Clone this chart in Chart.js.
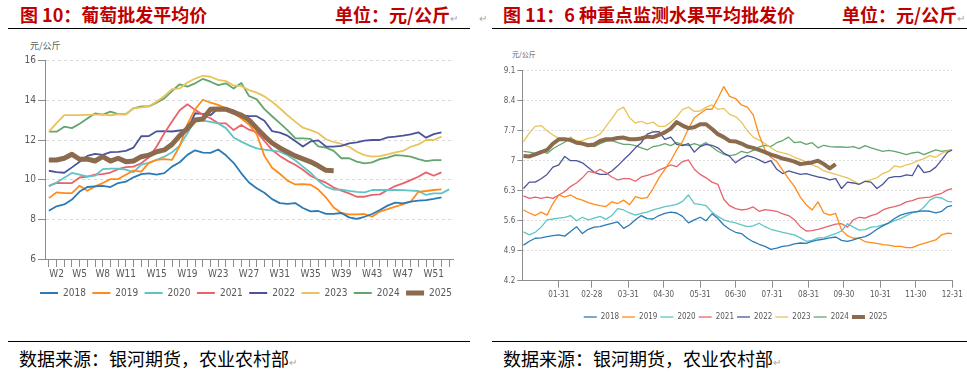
<!DOCTYPE html>
<html>
<head>
<meta charset="utf-8">
<script src="https://cdn.jsdelivr.net/npm/chart.js@4.4.1/dist/chart.umd.min.js"></script>
<style>
  body { margin: 0; width: 967px; height: 372px; background: #fff; position: relative; overflow: hidden; font-family: "Noto Sans CJK SC", sans-serif; }
  .title { position: absolute; top: 3px; font-size: 18px; font-weight: bold; color: #c00000; white-space: nowrap; line-height: 22px; }
  .rule { position: absolute; height: 1px; background: #000; }
  .src { position: absolute; top: 346px; font-size: 18px; color: #000; white-space: nowrap; line-height: 24px; }
  .ret { color: #a6a6a6; font-size: 10px; font-weight: normal; }
  .unit { position: absolute; color: #595959; white-space: nowrap; }
  .box { position: absolute; }
</style>
</head>
<body>
<div class="title" style="left:20px">图 10：葡萄批发平均价</div>
<div class="title" style="left:335px">单位：元/公斤<span class="ret">↵</span></div>
<div class="title" style="left:479px"><span class="ret">↵</span></div>
<div class="title" style="left:503px">图 11：6 种重点监测水果平均批发价</div>
<div class="title" style="left:842px">单位：元/公斤<span class="ret">↵</span></div>
<div class="rule" style="left:8px;top:28px;width:462px"></div>
<div class="rule" style="left:492px;top:28px;width:475px"></div>

<div class="unit" style="left:30px;top:39px;font-size:9px;line-height:14px">元/公斤</div>
<div class="unit" style="left:512px;top:49px;font-size:7px;line-height:10px">元/公斤</div>

<div class="box" style="left:0;top:35px"><canvas id="grape" width="470" height="275"></canvas></div>
<div class="box" style="left:490px;top:40px"><canvas id="fruit" width="477" height="292"></canvas></div>

<div class="rule" style="left:8px;top:341px;width:462px"></div>
<div class="rule" style="left:492px;top:341px;width:475px"></div>
<div class="src" style="left:19px">数据来源：银河期货，农业农村部<span class="ret">↵</span></div>
<div class="src" style="left:503px">数据来源：银河期货，农业农村部<span class="ret">↵</span></div>

<script>
// years and colours shared by both charts
const years = ['2018', '2019', '2020', '2021', '2022', '2023', '2024', '2025'];
const colors = ['#2a7ab5', '#ff8c1a', '#5ec5c6', '#e8636b', '#4b5499', '#e9c35b', '#63a66d', '#8c6a4d'];

// 图10 葡萄批发平均价, weekly
const weeks = Array.from({ length: 53 }, (_, i) => 'W' + (i + 1));
const shownWeeks = ['W2', 'W5', 'W8', 'W11', 'W15', 'W19', 'W23', 'W27', 'W31', 'W35', 'W39', 'W43', 'W47', 'W51'];

const g2018 = [8.43, 8.66, 8.75, 9.0, 9.4, 9.63, 9.66, 9.69, 9.63, 9.83, 9.9, 10.12, 10.28, 10.32, 10.26, 10.33, 10.66, 10.88, 11.25, 11.48, 11.36, 11.35, 11.52, 11.23, 10.85, 10.32, 9.86, 9.57, 9.34, 9.02, 8.82, 8.78, 8.82, 8.57, 8.4, 8.42, 8.28, 8.28, 8.32, 8.1, 8.02, 8.13, 8.27, 8.47, 8.69, 8.84, 8.81, 8.89, 8.94, 8.97, 9.03, 9.11, null];
const g2019 = [9.07, 9.36, 9.32, 9.32, 9.7, 9.44, 9.66, 9.83, 10.03, 10.03, 10.25, 10.46, 10.41, 10.85, 11.0, 11.04, 11.0, 11.7, 12.8, 13.55, 14.03, 13.88, 13.77, 13.6, 13.35, 13.08, 12.78, 12.3, 11.2, 10.6, 10.3, 9.95, 9.76, 9.77, 9.75, 9.5, 9.1, 8.6, 8.32, 8.25, 8.25, 8.27, 8.13, 8.39, 8.52, 8.64, 8.76, 8.89, 9.39, 9.43, 9.48, 9.51, null];
const g2020 = [9.66, 9.86, 10.1, 10.34, 10.25, 10.15, 10.2, 10.53, 10.56, 10.56, 10.51, 10.38, 10.76, 10.85, 11.0, 11.16, 11.38, 11.72, 12.34, 13.01, 12.98, 12.92, 12.84, 12.6, 12.13, 11.92, 11.73, 11.58, 11.52, 11.47, 11.41, 11.23, 10.98, 10.66, 10.35, 9.95, 9.65, 9.5, 9.5, 9.44, 9.39, 9.36, 9.48, 9.48, 9.48, 9.48, 9.47, 9.45, 9.43, 9.23, 9.31, 9.31, 9.51];
const g2021 = [9.69, 9.84, 9.83, 9.83, 10.11, 10.16, 10.25, 10.28, 10.36, 10.53, 10.63, 10.66, 10.83, 11.13, 11.67, 12.34, 12.93, 13.5, 13.8, 13.52, 13.27, 13.1, 12.85, 12.84, 12.5, 12.76, 12.52, 12.4, 11.95, 11.5, 11.2, 10.95, 10.75, 10.5, 10.2, 10.0, 9.85, 9.6, 9.45, 9.31, 9.14, 9.14, 9.23, 9.26, 9.48, 9.68, 9.81, 9.98, 10.15, 10.37, 10.2, 10.37, null];
const g2022 = [10.45, 10.38, 10.35, 10.62, 10.9, 11.2, 11.3, 11.25, 11.39, 11.4, 11.45, 11.62, 12.19, 12.2, 12.44, 12.45, 12.43, 12.48, 12.52, 13.35, 13.32, 13.25, 13.6, 13.6, 13.5, 13.25, 13.21, 13.2, 12.97, 12.45, 12.37, 12.22, 11.95, 11.67, 11.93, 11.98, 11.67, 11.67, 11.7, 11.83, 11.88, 11.97, 12.0, 12.0, 12.13, 12.17, 12.22, 12.29, 12.39, 12.12, 12.3, 12.39, null];
const g2023 = [12.42, 12.85, 13.26, 13.26, 13.26, 13.27, 13.28, 13.28, 13.25, 13.3, 13.3, 13.6, 13.65, 13.7, 13.93, 14.22, 14.56, 14.6, 14.9, 15.1, 15.24, 15.19, 15.03, 14.97, 14.75, 14.72, 14.52, 14.39, 14.2, 13.93, 13.6, 13.25, 12.93, 12.62, 12.5, 12.34, 12.04, 11.9, 11.8, 11.66, 11.41, 11.24, 11.16, 11.19, 11.28, 11.38, 11.45, 11.66, 11.78, 12.0, 12.0, 12.17, null];
const g2024 = [12.42, 12.42, 12.67, 12.6, 12.82, 13.08, 13.34, 13.28, 13.43, 13.31, 13.3, 13.6, 13.7, 13.7, 13.88, 14.1, 14.47, 14.81, 14.69, 14.86, 15.08, 14.94, 14.77, 14.86, 14.6, 14.88, 14.22, 14.05, 13.56, 13.2, 12.85, 12.5, 12.09, 12.08, 12.06, 11.68, 11.62, 11.45, 11.08, 11.08, 10.91, 10.82, 10.87, 11.04, 11.11, 11.24, 11.21, 11.16, 11.04, 10.94, 10.99, 10.99, null];
const g2025 = [10.99, 10.99, 11.08, 11.28, 11.03, 11.04, 10.94, 11.16, 10.94, 11.08, 10.91, 10.94, 11.16, 11.24, 11.41, 11.5, 11.78, 12.22, 12.59, 13.01, 13.06, 13.55, 13.56, 13.55, 13.4, 13.26, 13.01, 12.6, 12.2, 11.85, 11.6, 11.4, 11.2, 11.05, 10.9, 10.7, 10.47, 10.45];

// 图11 6种重点监测水果平均批发价, read every 5 days (day of year)
const days = Array.from({ length: 73 }, (_, i) => 1 + 5 * i).concat([365]);
const monthEnds = [31, 59, 90, 120, 151, 181, 212, 243, 273, 304, 334, 365];
const monthLabels = ['01-31', '02-28', '03-31', '04-30', '05-31', '06-30', '07-31', '08-31', '09-30', '10-31', '11-30', '12-31'];
const fruitTicks = [4.2, 4.9, 5.6, 6.3, 7, 7.7, 8.4, 9.1];

const f2018 = [5.03, 5.12, 5.19, 5.2, 5.23, 5.25, 5.27, 5.24, 5.35, 5.46, 5.3, 5.4, 5.45, 5.46, 5.5, 5.54, 5.57, 5.42, 5.5, 5.62, 5.72, 5.65, 5.64, 5.72, 5.77, 5.8, 5.78, 5.7, 5.55, 5.62, 5.68, 5.6, 5.76, 5.65, 5.5, 5.4, 5.33, 5.3, 5.19, 5.11, 5.05, 5.0, 4.93, 4.96, 5.0, 5.02, 5.06, 5.08, 5.07, 5.12, 5.15, 5.17, 5.2, 5.22, 5.14, 5.12, 5.15, 5.2, 5.23, 5.3, 5.4, 5.48, 5.55, 5.65, 5.73, 5.77, 5.8, 5.82, 5.83, 5.82, 5.78, 5.82, 5.93, 5.95];
const f2019 = [5.85, 5.78, 5.72, 5.8, 5.73, 6.0, 6.2, 6.15, 6.2, 6.12, 6.08, 6.02, 5.98, 5.95, 5.93, 6.04, 6.0, 6.08, 5.97, 6.16, 6.12, 6.14, 6.35, 6.6, 6.8, 7.0, 7.25, 7.45, 7.75, 8.0, 8.1, 8.2, 8.2, 8.45, 8.73, 8.5, 8.45, 8.3, 8.25, 8.07, 7.6, 7.25, 7.08, 6.98, 6.78, 6.58, 6.4, 6.15, 5.97, 5.85, 6.04, 5.78, 5.73, 5.77, 5.38, 5.25, 5.19, 5.19, 5.11, 5.09, 5.07, 5.04, 5.03, 5.0, 5.0, 4.97, 4.97, 5.03, 5.07, 5.11, 5.15, 5.27, 5.31, 5.3];
const f2020 = [5.34, 5.27, 5.33, 5.45, 5.62, 5.64, 5.66, 5.68, 5.72, 5.6, 5.68, 5.62, 5.66, 5.7, 5.63, 5.72, 5.88, 5.85, 5.78, 5.73, 5.77, 5.8, 5.85, 5.89, 5.93, 5.95, 5.98, 6.05, 6.2, 6.0, 5.98, 5.95, 5.8, 5.7, 5.62, 5.58, 5.55, 5.5, 5.46, 5.48, 5.54, 5.46, 5.4, 5.36, 5.33, 5.3, 5.27, 5.2, 5.12, 5.14, 5.2, 5.2, 5.25, 5.3, 5.36, 5.53, 5.45, 5.38, 5.39, 5.45, 5.46, 5.5, 5.54, 5.6, 5.65, 5.72, 5.78, 5.81, 5.92, 6.08, 6.15, 6.13, 6.05, 6.04];
const f2021 = [6.18, 6.12, 6.15, 6.12, 6.15, 6.12, 6.2, 6.28, 6.4, 6.48, 6.6, 6.75, 6.72, 6.8, 6.72, 6.62, 6.55, 6.58, 6.58, 6.52, 6.62, 6.66, 6.7, 6.78, 6.84, 6.9, 6.86, 6.98, 7.02, 6.8, 6.68, 6.6, 6.5, 6.45, 6.1, 5.95, 5.88, 5.85, 5.87, 5.92, 5.82, 5.86, 5.84, 5.82, 5.76, 5.72, 5.62, 5.46, 5.36, 5.37, 5.4, 5.44, 5.48, 5.52, 5.53, 5.45, 5.62, 5.68, 5.66, 5.72, 5.76, 5.85, 5.9, 5.93, 5.97, 6.04, 6.07, 6.12, 6.14, 6.15, 6.2, 6.24, 6.32, 6.35];
const f2022 = [6.35, 6.5, 6.5, 6.58, 6.68, 6.85, 6.9, 7.1, 7.0, 7.0, 6.95, 6.84, 6.73, 6.68, 6.68, 6.76, 6.88, 7.02, 7.15, 7.3, 7.42, 7.62, 7.67, 7.68, 7.5, 7.55, 7.38, 7.35, 7.4, 7.2, 7.33, 7.38, 7.36, 7.3, 7.18, 7.1, 6.95, 7.05, 7.12, 7.08, 7.02, 6.95, 7.0, 6.8, 6.7, 6.76, 6.72, 6.68, 6.7, 6.66, 6.62, 6.6, 6.55, 6.58, 6.35, 6.5, 6.48, 6.45, 6.52, 6.5, 6.35, 6.45, 6.6, 6.63, 6.63, 6.67, 6.65, 6.9, 6.72, 6.75, 6.85, 7.02, 7.2, 7.25];
const f2023 = [7.44, 7.65, 7.8, 7.82, 7.7, 7.6, 7.52, 7.5, 7.53, 7.46, 7.47, 7.52, 7.55, 7.62, 7.8, 7.98, 8.18, 8.25, 8.0, 7.88, 7.92, 7.86, 7.9, 7.8, 7.8, 7.9, 8.02, 8.2, 8.25, 8.15, 8.16, 8.25, 8.3, 8.2, 8.22, 8.08, 8.03, 7.9, 7.7, 7.55, 7.48, 7.4, 7.3, 7.22, 7.18, 7.15, 7.08, 7.03, 6.97, 6.9, 6.85, 6.76, 6.72, 6.68, 6.64, 6.6, 6.53, 6.45, 6.52, 6.56, 6.6, 6.7, 6.75, 6.88, 6.85, 6.9, 6.94, 7.0, 7.05, 7.12, 7.08, 7.17, 7.23, 7.25];
const f2024 = [7.22, 7.2, 7.17, 7.23, 7.17, 7.28, 7.36, 7.43, 7.55, 7.42, 7.4, 7.36, 7.33, 7.4, 7.45, 7.47, 7.42, 7.38, 7.38, 7.35, 7.3, 7.25, 7.33, 7.35, 7.4, 7.35, 7.42, 7.38, 7.35, 7.4, 7.35, 7.42, 7.32, 7.22, 7.15, 7.12, 7.14, 7.22, 7.18, 7.24, 7.32, 7.36, 7.33, 7.42, 7.47, 7.55, 7.42, 7.44, 7.38, 7.42, 7.3, 7.36, 7.33, 7.32, 7.32, 7.31, 7.33, 7.28, 7.35, 7.3, 7.26, 7.22, 7.24, 7.22, 7.18, 7.14, 7.18, 7.2, 7.14, 7.2, 7.25, 7.22, 7.24, 7.25];
const f2025 = [7.11, 7.1, 7.15, 7.2, 7.25, 7.4, 7.5, 7.5, 7.48, 7.42, 7.4, 7.36, 7.38, 7.46, 7.5, 7.5, 7.53, 7.54, 7.5, 7.5, 7.52, 7.56, 7.55, 7.6, 7.66, 7.75, 7.9, 7.82, 7.76, 7.78, 7.85, 7.85, 7.74, 7.62, 7.55, 7.46, 7.45, 7.4, 7.33, 7.3, 7.25, 7.2, 7.14, 7.1, 7.05, 7.02, 6.98, 6.92, 6.94, 6.96, 7.0, 6.92, 6.82, 6.92];

const NARROW = "'Liberation Sans Narrow', 'DejaVu Sans Condensed', sans-serif";
const axisGray = '#8c8c8c';
const textGray = '#595959';

function makeSet(label, data, color, thick, thin, wide) {
  return {
    label: label,
    data: data,
    borderColor: color,
    backgroundColor: color,
    borderWidth: thick ? wide : thin,
    borderJoinStyle: 'round',
    pointRadius: 0,
    tension: 0,
    order: thick ? -1 : 0
  };
}

function legendOpts(size, pad, sw) {
  return {
    position: 'bottom',
    labels: {
      usePointStyle: true,
      pointStyle: 'line',
      pointStyleWidth: sw,
      padding: pad,
      color: textGray,
      font: { family: NARROW, size: size },
      sort: (a, b) => a.datasetIndex - b.datasetIndex
    }
  };
}

// empty axis on the right, only to keep the plot narrower than the legend row
function spacer(w) {
  return {
    type: 'linear',
    position: 'right',
    afterFit: function (s) { s.width = w; },
    grid: { display: false },
    border: { display: false },
    ticks: { display: false }
  };
}

// left chart
const grapeSeries = [g2018, g2019, g2020, g2021, g2022, g2023, g2024, g2025];
new Chart(document.getElementById('grape'), {
  type: 'line',
  data: {
    labels: weeks,
    datasets: grapeSeries.map((d, i) => makeSet(years[i], d, colors[i], i === 7, 1.8, 5))
  },
  options: {
    responsive: false,
    animation: false,
    devicePixelRatio: 1,
    layout: { padding: { left: 22, right: 0, top: 25.7, bottom: 2 } },
    plugins: { legend: legendOpts(10, 6.4, 18), tooltip: { enabled: false } },
    scales: {
      x: {
        offset: true,
        afterFit: function (s) { s.height = 22.6; },
        grid: { drawOnChartArea: false, tickLength: 8, tickColor: axisGray },
        border: { color: axisGray },
        ticks: {
          autoSkip: false,
          maxRotation: 0,
          padding: 1,
          color: textGray,
          font: { family: NARROW, size: 10 },
          callback: (v, i) => shownWeeks.includes(weeks[i]) ? weeks[i] : ''
        }
      },
      y: {
        min: 6,
        max: 16,
        afterFit: function (s) { s.width = 23; },
        grid: { color: '#d9d9d9', tickLength: 7, tickColor: axisGray },
        border: { color: axisGray, dash: [3, 3] },
        ticks: { stepSize: 2, padding: 2, color: textGray, font: { family: NARROW, size: 10 } }
      },
      pad: spacer(17)
    }
  }
});

// right chart
const fruitSeries = [f2018, f2019, f2020, f2021, f2022, f2023, f2024, f2025];
new Chart(document.getElementById('fruit'), {
  type: 'line',
  data: {
    datasets: fruitSeries.map((d, i) => makeSet(years[i], d.map((v, j) => ({ x: days[j], y: v })), colors[i], i === 7, 1.3, 4))
  },
  options: {
    responsive: false,
    animation: false,
    devicePixelRatio: 1,
    layout: { padding: { left: 14, right: 0, top: 30.7, bottom: 1 } },
    plugins: { legend: legendOpts(8, 3, 13), tooltip: { enabled: false } },
    scales: {
      x: {
        type: 'linear',
        min: 0,
        max: 365,
        afterBuildTicks: function (s) { s.ticks = monthEnds.map(v => ({ value: v })); },
        afterFit: function (s) { s.height = 29.3; },
        grid: { drawOnChartArea: false, tickLength: 7, tickColor: axisGray },
        border: { color: axisGray },
        ticks: {
          autoSkip: false,
          maxRotation: 0,
          padding: 2,
          color: textGray,
          font: { family: NARROW, size: 8 },
          callback: v => monthLabels[monthEnds.indexOf(v)]
        }
      },
      y: {
        min: 4.2,
        max: 9.1,
        afterBuildTicks: function (s) { s.ticks = fruitTicks.map(v => ({ value: v })); },
        afterFit: function (s) { s.width = 18.3; },
        grid: { color: '#dcdcdc', tickLength: 5, tickColor: axisGray },
        border: { color: axisGray, dash: [2, 2] },
        ticks: { padding: 2, color: textGray, font: { family: NARROW, size: 8 }, callback: v => String(v) }
      },
      pad: spacer(14.7)
    }
  }
});
</script>
</body>
</html>
